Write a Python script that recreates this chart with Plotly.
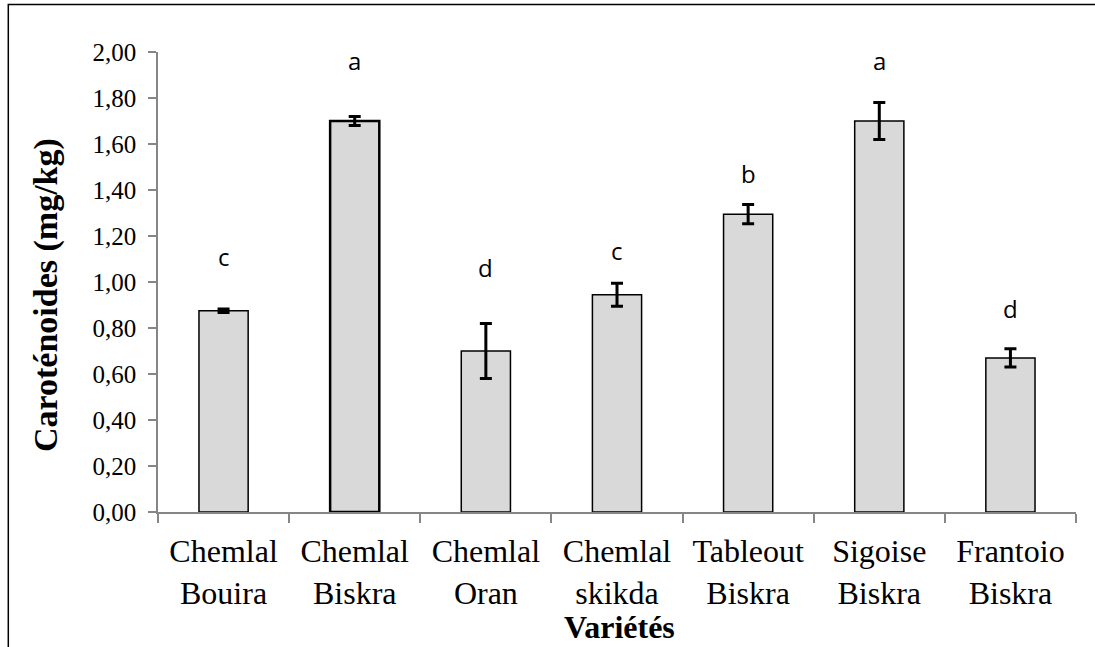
import plotly.graph_objects as go

categories = ["Chemlal<br>Bouira", "Chemlal<br>Biskra", "Chemlal<br>Oran", "Chemlal<br>skikda",
              "Tableout<br>Biskra", "Sigoise<br>Biskra", "Frantoio<br>Biskra"]
values = [0.875, 1.70, 0.70, 0.945, 1.295, 1.70, 0.67]
errors = [0.008, 0.02, 0.12, 0.05, 0.042, 0.08, 0.04]
letters = ["c", "a", "d", "c", "b", "a", "d"]
letter_y = [1.06, 1.915, 1.015, 1.085, 1.42, 1.915, 0.835]
y_ticks = [0, 0.2, 0.4, 0.6, 0.8, 1.0, 1.2, 1.4, 1.6, 1.8, 2.0]

SERIF = "Liberation Serif, Times New Roman, serif"

W, H = 1095, 647
L, R, T, B = 158, 19, 52, 135
pw, ph = W - L - R, H - T - B

def px_x(px):
    return (px - L) / pw

def px_y(py):
    return (H - B - py) / ph

fig = go.Figure()
fig.add_trace(go.Bar(
    x=categories, y=values, width=0.375,
    marker=dict(color="#d9d9d9", line=dict(color="black", width=[1.5, 2.5, 1.5, 1.5, 1.5, 1.5, 1.5])),
    error_y=dict(type="data", array=errors, visible=True, color="black", thickness=3, width=6),
    showlegend=False,
))

for c, t, yv in zip(categories, letters, letter_y):
    fig.add_annotation(x=c, y=yv, text=t, showarrow=False, xref="x", yref="y",
                       yanchor="bottom", yshift=-7,
                       font=dict(family="Open Sans", size=24, color="black"))

fig.add_annotation(x=px_x(46), y=px_y(295), xref="paper", yref="paper", text="<b>Caroténoides (mg/kg)</b>",
                   textangle=-90, showarrow=False, xanchor="center", yanchor="middle",
                   font=dict(family=SERIF, size=34, color="black"))
fig.add_annotation(x=px_x(619), y=px_y(627), xref="paper", yref="paper", text="<b>Variétés</b>",
                   showarrow=False, xanchor="center", yanchor="middle",
                   font=dict(family=SERIF, size=32, color="black"))

fig.add_shape(type="path", xref="paper", yref="paper",
              path=f"M {px_x(8.3)} {px_y(H + 5)} L {px_x(8.3)} {px_y(4.5)} L {px_x(W + 5)} {px_y(4.5)}",
              line=dict(color="black", width=1.5))

fig.update_layout(
    width=W, height=H,
    margin=dict(l=L, r=R, t=T, b=B, pad=0),
    plot_bgcolor="white", paper_bgcolor="white",
    separators=", ",
    font=dict(family=SERIF, color="black"),
    xaxis=dict(showline=True, linecolor="#868686", linewidth=1.5, ticks="outside", tickson="boundaries",
               ticklen=9, tickcolor="#868686", tickwidth=1.5, tickfont=dict(size=32, family=SERIF, color="black"),
               showgrid=False, zeroline=False, ticklabelstandoff=10),
    yaxis=dict(range=[0, 2.0], tickvals=y_ticks, tickformat=".2f", showline=True, linecolor="#868686",
               linewidth=1.5, ticks="outside", ticklen=8, tickcolor="#868686", tickwidth=1.5,
               tickfont=dict(size=25, family=SERIF, color="black"), showgrid=False, zeroline=False,
               ticklabelstandoff=7),
)

fig.write_html("out.html", config={"displayModeBar": False},
               post_script="document.body.style.margin='0';document.body.style.overflow='hidden';")
